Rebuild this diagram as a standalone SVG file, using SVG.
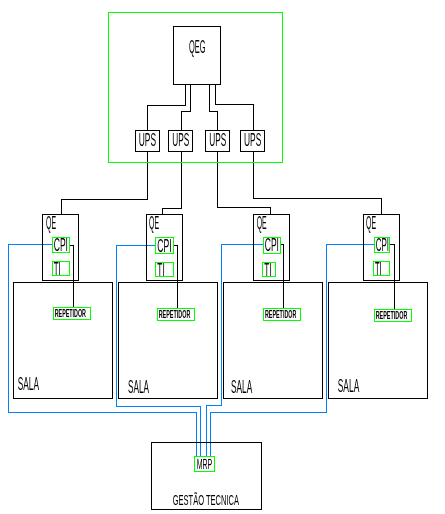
<svg xmlns="http://www.w3.org/2000/svg" width="445" height="514" viewBox="0 0 445 514">
<defs><filter id="gray" x="-20%" y="-20%" width="140%" height="140%" color-interpolation-filters="sRGB"><feOffset dx="0" dy="0"/></filter></defs>
<style>
rect{fill:none;stroke-width:1;shape-rendering:crispEdges}
.k{stroke:#000}
.g{stroke:#00ff00}
path{fill:none;stroke-width:1;shape-rendering:crispEdges}
.b{stroke:#0080ff}
text{font-family:"Liberation Sans",Arial,sans-serif;fill:#000;font-size:17.5px;filter:url(#gray)}
.s{font-size:10.5px;font-weight:bold}
.m{font-size:14.5px}
.c{font-size:15.5px}
</style>
<rect width="445" height="514" style="fill:#fff;stroke:none"/>
<g id="connectors">
<path class="k" d="M185.5 84.5V105.5H147.5V130.5M190.5 84.5V111.5H181.5V130.5M209.5 84.5V111.5H217.5V130.5M215.5 84.5V104.5H253.5V130.5"/>
<path class="k" d="M147.5 151.5V199.5H61.5V214.5M181.5 151.5V208.5H162.5V214.5M217.5 151.5V207.5H270.5V214.5M253.5 151.5V198.5H381.5V214.5"/>
<path class="k" d="M69.5 245.5H73.5V307.5M173.5 245.5H177.5V308.5M280.5 244.5H283.5V308.5M389.5 244.5H394.5V309.5"/>
<path class="b" d="M52.5 244.5H8.5V412.5H196.5V456.5M155.5 245.5H116.5V406.5H200.5V456.5M263.5 244.5H221.5V405.5H206.5V456.5M374.5 244.5H326.5V412.5H210.5V456.5"/>
</g>
<g id="painel"><rect class="g" x="108.5" y="12.5" width="174" height="150"/></g>
<g id="qeg"><rect class="k" x="173.5" y="26.5" width="47" height="58"/><text x="189" y="53" textLength="16.5" lengthAdjust="spacingAndGlyphs">QEG</text></g>
<g id="ups1"><rect class="k" x="135.5" y="130.5" width="24" height="21"/><text x="138.7" y="145.5" textLength="17.3" lengthAdjust="spacingAndGlyphs">UPS</text></g>
<g id="ups2"><rect class="k" x="168.5" y="130.5" width="24" height="21"/><text x="172.3" y="145.5" textLength="17" lengthAdjust="spacingAndGlyphs">UPS</text></g>
<g id="ups3"><rect class="k" x="205.5" y="130.5" width="24" height="21"/><text x="209.3" y="145.5" textLength="17" lengthAdjust="spacingAndGlyphs">UPS</text></g>
<g id="ups4"><rect class="k" x="240.5" y="130.5" width="24" height="21"/><text x="244" y="145.5" textLength="17.3" lengthAdjust="spacingAndGlyphs">UPS</text></g>
<g id="qe1"><rect class="k" x="42.5" y="214.5" width="36" height="66"/><text x="46" y="229" textLength="10" lengthAdjust="spacingAndGlyphs">QE</text></g>
<g id="qe2"><rect class="k" x="146.5" y="214.5" width="36" height="66"/><text x="149" y="229" textLength="10" lengthAdjust="spacingAndGlyphs">QE</text></g>
<g id="qe3"><rect class="k" x="253.5" y="214.5" width="36" height="66"/><text x="256.7" y="229" textLength="10" lengthAdjust="spacingAndGlyphs">QE</text></g>
<g id="qe4"><rect class="k" x="363.5" y="214.5" width="36" height="66"/><text x="366" y="229" textLength="10" lengthAdjust="spacingAndGlyphs">QE</text></g>
<g id="cpi1"><rect class="g" x="52.5" y="237.5" width="17" height="15"/><text x="53.7" y="251" textLength="14.3" lengthAdjust="spacingAndGlyphs">CPI</text></g>
<g id="cpi2"><rect class="g" x="155.5" y="237.5" width="18" height="16"/><text x="157.3" y="252" textLength="14.4" lengthAdjust="spacingAndGlyphs">CPI</text></g>
<g id="cpi3"><rect class="g" x="263.5" y="237.5" width="17" height="16"/><text x="264.7" y="251" textLength="14.3" lengthAdjust="spacingAndGlyphs">CPI</text></g>
<g id="cpi4"><rect class="g" x="374.5" y="237.5" width="15" height="15"/><text x="375.7" y="251" textLength="13.3" lengthAdjust="spacingAndGlyphs">CPI</text></g>
<g id="ti1"><rect class="g" x="52.5" y="261.5" width="17" height="14"/><text x="53.7" y="275" textLength="7" lengthAdjust="spacingAndGlyphs">TI</text></g>
<g id="ti2"><rect class="g" x="155.5" y="262.5" width="18" height="14"/><text x="157.3" y="276" textLength="7.4" lengthAdjust="spacingAndGlyphs">TI</text></g>
<g id="ti3"><rect class="g" x="262.5" y="262.5" width="13" height="14"/><text x="264.3" y="276" textLength="7.4" lengthAdjust="spacingAndGlyphs">TI</text></g>
<g id="ti4"><rect class="g" x="373.5" y="261.5" width="16" height="14"/><text x="375" y="275" textLength="6.7" lengthAdjust="spacingAndGlyphs">TI</text></g>
<g id="sala1"><rect class="k" x="13.5" y="282.5" width="99" height="116"/><text x="17.7" y="390" textLength="21.3" lengthAdjust="spacingAndGlyphs">SALA</text></g>
<g id="sala2"><rect class="k" x="118.5" y="282.5" width="99" height="116"/><text x="128" y="392.5" textLength="21" lengthAdjust="spacingAndGlyphs">SALA</text></g>
<g id="sala3"><rect class="k" x="223.5" y="282.5" width="99" height="116"/><text x="231" y="392.5" textLength="21.3" lengthAdjust="spacingAndGlyphs">SALA</text></g>
<g id="sala4"><rect class="k" x="328.5" y="282.5" width="99" height="116"/><text x="337.7" y="392" textLength="21.6" lengthAdjust="spacingAndGlyphs">SALA</text></g>
<g id="rep1"><rect class="g" x="53.5" y="307.5" width="37" height="12"/><text class="s" x="54.7" y="316.7" textLength="31.3" lengthAdjust="spacingAndGlyphs">REPETIDOR</text></g>
<g id="rep2"><rect class="g" x="157.5" y="308.5" width="37" height="12"/><text class="s" x="158.7" y="317.7" textLength="31.6" lengthAdjust="spacingAndGlyphs">REPETIDOR</text></g>
<g id="rep3"><rect class="g" x="263.5" y="308.5" width="37" height="12"/><text class="s" x="265" y="317.7" textLength="31.3" lengthAdjust="spacingAndGlyphs">REPETIDOR</text></g>
<g id="rep4"><rect class="g" x="374.5" y="309.5" width="37" height="12"/><text class="s" x="375.7" y="318.7" textLength="31.6" lengthAdjust="spacingAndGlyphs">REPETIDOR</text></g>
<g id="gestao"><rect class="k" x="151.5" y="442.5" width="110" height="67"/><text class="m" x="172.7" y="505" textLength="66.3" lengthAdjust="spacingAndGlyphs">GESTÃO TECNICA</text></g>
<g id="mrp"><rect class="g" x="194.5" y="456.5" width="20" height="15"/><text class="c" x="196.7" y="469.3" textLength="15.6" lengthAdjust="spacingAndGlyphs">MRP</text></g>
</svg>
